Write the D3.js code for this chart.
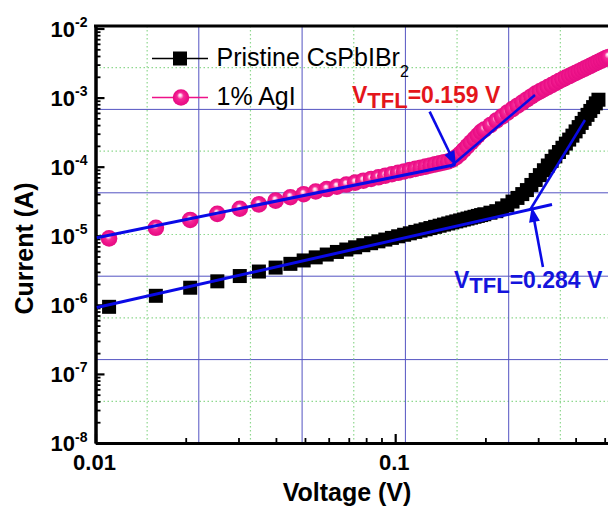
<!DOCTYPE html>
<html><head><meta charset="utf-8">
<script src="https://cdn.jsdelivr.net/npm/d3@7"></script>
<style>html,body{margin:0;padding:0;background:#fff;} svg{display:block;}</style>
</head><body><svg id="c" width="608" height="506"></svg>
<script>
// ---------------- data ----------------
const voltage = [0.0111,0.0159,0.0207,0.0255,0.0303,0.0351,0.0399,0.0447,0.0495,0.0543,
  0.0591,0.0639,0.0687,0.0735,0.0783,0.0831,0.0879,0.0927,0.0975,0.1023,
  0.1071,0.1119,0.1167,0.1215,0.1263,0.1311,0.1359,0.1407,0.1455,0.1503,
  0.1551,0.1599,0.1647,0.1695,0.1743,0.1791,0.1839,0.1887,0.1935,0.1983,
  0.2079,0.2175,0.2271,0.2367,0.2463,0.2559,0.2655,0.2751,0.2847,0.2943,
  0.3039,0.3135,0.3231,0.3327,0.3423,0.3519,0.3615,0.3711,0.3807,0.3903,
  0.3999,0.4095,0.4191,0.4287,0.4383,0.4479,0.4575,0.4671,0.4767,0.4863,
  0.4959,0.5055,0.5151];

const pristineCurrent = [9.36e-7,1.351e-6,1.769e-6,2.189e-6,2.611e-6,3.034e-6,3.459e-6,3.920e-6,4.391e-6,4.865e-6,
  5.346e-6,5.829e-6,6.318e-6,6.806e-6,7.302e-6,7.801e-6,8.303e-6,8.806e-6,9.312e-6,9.824e-6,
  1.034e-5,1.085e-5,1.137e-5,1.189e-5,1.241e-5,1.293e-5,1.346e-5,1.398e-5,1.452e-5,1.505e-5,
  1.559e-5,1.613e-5,1.666e-5,1.720e-5,1.774e-5,1.829e-5,1.883e-5,1.937e-5,1.992e-5,2.047e-5,
  2.157e-5,2.269e-5,2.491e-5,2.755e-5,3.125e-5,3.528e-5,4.010e-5,4.582e-5,5.437e-5,6.420e-5,
  7.543e-5,8.879e-5,1.040e-4,1.214e-4,1.408e-4,1.630e-4,1.878e-4,2.157e-4,2.466e-4,2.812e-4,
  3.240e-4,3.740e-4,4.296e-4,4.918e-4,5.621e-4,6.410e-4,7.279e-4,8.246e-4,9.312e-4];

const agiCurrent = [9.16e-6,1.304e-5,1.691e-5,2.076e-5,2.460e-5,2.844e-5,3.227e-5,3.608e-5,3.990e-5,4.371e-5,
  4.748e-5,5.128e-5,5.509e-5,5.885e-5,6.265e-5,6.643e-5,7.020e-5,7.397e-5,7.774e-5,8.151e-5,
  8.527e-5,8.900e-5,9.276e-5,9.655e-5,1.003e-4,1.040e-4,1.078e-4,1.116e-4,1.153e-4,1.190e-4,
  1.266e-4,1.376e-4,1.533e-4,1.747e-4,1.982e-4,2.243e-4,2.529e-4,2.844e-4,3.185e-4,3.444e-4,
  4.008e-4,4.634e-4,5.321e-4,6.078e-4,6.825e-4,7.623e-4,8.486e-4,9.404e-4,1.039e-3,1.140e-3,
  1.229e-3,1.322e-3,1.419e-3,1.518e-3,1.623e-3,1.731e-3,1.839e-3,1.943e-3,2.051e-3,2.159e-3,
  2.272e-3,2.389e-3,2.508e-3,2.629e-3,2.753e-3,2.883e-3,3.015e-3,3.150e-3,3.288e-3,3.431e-3,
  3.576e-3,3.723e-3,3.876e-3];

// fitted lines [V, I]
const fitPristineOhmic = [[0.0101, 9.15e-7], [0.3336, 2.834e-5]];
const fitPristineTrap  = [[0.2817, 2.36e-5], [0.4298, 4.74e-4]];
const fitAgiOhmic      = [[0.0101, 9.37e-6], [0.1582, 1.068e-4]];
const fitAgiTrap       = [[0.1524, 9.89e-5], [0.2927, 1.091e-3]];
// arrows [tail, tip] as [V, I]
const arrowAgi      = [[0.1303, 6.25e-4], [0.1595, 1.023e-4]];
const arrowPristine = [[0.3112, 3.53e-6], [0.2855, 2.61e-5]];

const seriesNames = ["Pristine CsPbIBr", "1% AgI"];
const vtflLabels = ["0.159", "0.284"];
const yTickExponents = [-8, -7, -6, -5, -4, -3, -2];
const xTickValues = [0.01, 0.1];
const xTickLabels = ["0.01", "0.1"];

// ---------------- layout ----------------
const mL = 95.5, mR = 612, mT = 26, mB = 443;
const x = d3.scaleLog().domain([0.01, 0.529]).range([mL, mR]);
const y = d3.scaleLog().domain([1e-8, 0.01087]).range([mB, mT]);
const font = "Arial, 'Liberation Sans', Helvetica, sans-serif";
const pink = "#ee1289", fitBlue = "#0a0ae6";

const svg = d3.select("#c");
const defs = svg.append("defs");
const grad = defs.append("radialGradient").attr("id", "sphere")
  .attr("cx", "50%").attr("cy", "50%").attr("r", "50%").attr("fx", "44%").attr("fy", "34%");
grad.append("stop").attr("offset", "0%").attr("stop-color", "#ffffff");
grad.append("stop").attr("offset", "16%").attr("stop-color", "#ffc8e4");
grad.append("stop").attr("offset", "40%").attr("stop-color", "#f52a98");
grad.append("stop").attr("offset", "75%").attr("stop-color", "#ee1289");
grad.append("stop").attr("offset", "100%").attr("stop-color", "#e40d83");
defs.append("clipPath").attr("id", "plot").append("rect")
  .attr("x", mL).attr("y", mT).attr("width", mR - mL).attr("height", mB - mT);

// ---------------- grid (10 x 10 overlay) ----------------
const gx = d3.scaleLinear().domain([0, 10]).range([mL, mR]);
const gy = d3.scaleLinear().domain([0, 10]).range([mB, mT]);
const grid = svg.append("g");
d3.range(1, 10).forEach(k => {
  const major = k % 2 === 0;
  const st = major ? {c: "#5353c2", w: 1, d: null} : {c: "#8ed88e", w: 1.2, d: "1.5,2.5"};
  grid.append("line").attr("x1", gx(k)).attr("x2", gx(k)).attr("y1", mT).attr("y2", mB)
    .attr("stroke", st.c).attr("stroke-width", st.w).attr("stroke-dasharray", st.d);
  grid.append("line").attr("y1", gy(k)).attr("y2", gy(k)).attr("x1", mL).attr("x2", mR)
    .attr("stroke", st.c).attr("stroke-width", st.w).attr("stroke-dasharray", st.d);
});

// ---------------- axes ----------------
const yMajor = yTickExponents.map(e => Math.pow(10, e));
const yMinor = y.ticks().filter(v => !yMajor.some(m => Math.abs(v / m - 1) < 1e-6) && v <= y.domain()[1]);
const xMinor = x.ticks().filter(v => !xTickValues.some(m => Math.abs(v / m - 1) < 1e-6));

function styleAxis(g, w) {
  g.select(".domain").attr("stroke", "#000").attr("stroke-width", 3);
  g.selectAll(".tick line").attr("stroke", "#000").attr("stroke-width", w);
  g.selectAll(".tick text").remove();
}
svg.append("g").attr("transform", `translate(${mL},0)`)
  .call(d3.axisLeft(y).tickValues(yMinor).tickSizeInner(-5).tickSizeOuter(0).tickFormat(""))
  .call(g => styleAxis(g, 1.8));
svg.append("g").attr("transform", `translate(${mL},0)`)
  .call(d3.axisLeft(y).tickValues(yMajor).tickSizeInner(-9).tickSizeOuter(0).tickFormat(""))
  .call(g => styleAxis(g, 2.2));
svg.append("g").attr("transform", `translate(0,${mB})`)
  .call(d3.axisBottom(x).tickValues(xMinor).tickSizeInner(-5).tickSizeOuter(0).tickFormat(""))
  .call(g => styleAxis(g, 1.8));
svg.append("g").attr("transform", `translate(0,${mB})`)
  .call(d3.axisBottom(x).tickValues(xTickValues).tickSizeInner(-9).tickSizeOuter(0).tickFormat(""))
  .call(g => styleAxis(g, 2.2));
svg.append("line").attr("x1", mL - 1.5).attr("x2", 608).attr("y1", mT).attr("y2", mT)
  .attr("stroke", "#000").attr("stroke-width", 3);

// tick labels
yTickExponents.forEach(e => {
  const t = svg.append("text").attr("x", 87.5).attr("y", y(Math.pow(10, e)) + 8)
    .attr("text-anchor", "end").attr("font-family", font).attr("font-weight", "bold").attr("font-size", 22);
  t.append("tspan").text("10");
  t.append("tspan").attr("dy", -9.5).attr("font-size", 14).text("-" + Math.abs(e));
});
xTickValues.forEach((v, i) => {
  svg.append("text").attr("x", x(v) - 1).attr("y", 470).attr("text-anchor", "middle")
    .attr("font-family", font).attr("font-weight", "bold").attr("font-size", 22).text(xTickLabels[i]);
});
svg.append("text").attr("x", 347).attr("y", 501).attr("text-anchor", "middle")
  .attr("font-family", font).attr("font-weight", "bold").attr("font-size", 25).text("Voltage (V)");
svg.append("text").attr("transform", "translate(33,248.5) rotate(-90)").attr("text-anchor", "middle")
  .attr("font-family", font).attr("font-weight", "bold").attr("font-size", 25).text("Current (A)");

// ---------------- data ----------------
const plot = svg.append("g").attr("clip-path", "url(#plot)");
const sq = 14, r = 8.3;
const pristine = pristineCurrent.map((c, i) => [voltage[i], c]);
const agi = agiCurrent.map((c, i) => [voltage[i], c]);
plot.append("g").selectAll("rect").data(pristine).join("rect")
  .attr("x", d => x(d[0]) - sq / 2).attr("y", d => y(d[1]) - sq / 2)
  .attr("width", sq).attr("height", sq).attr("fill", "#000");
plot.append("g").selectAll("circle").data(agi).join("circle")
  .attr("cx", d => x(d[0])).attr("cy", d => y(d[1])).attr("r", r).attr("fill", "url(#sphere)");

// fit lines
const line = d3.line().x(d => x(d[0])).y(d => y(d[1]));
[[fitAgiOhmic, 3], [fitPristineOhmic, 3], [fitAgiTrap, 2.5], [fitPristineTrap, 2.5]].forEach(([pts, w]) => {
  plot.append("path").attr("d", line(pts)).attr("fill", "none").attr("stroke", fitBlue).attr("stroke-width", w);
});

// arrows
function arrow(pts) {
  const p0 = [x(pts[0][0]), y(pts[0][1])], p1 = [x(pts[1][0]), y(pts[1][1])];
  const dx = p1[0] - p0[0], dy = p1[1] - p0[1], L = Math.hypot(dx, dy);
  const u = [dx / L, dy / L], n = [-u[1], u[0]];
  const hl = 15, hw = 11;
  const b = [p1[0] - u[0] * hl, p1[1] - u[1] * hl];
  svg.append("line").attr("x1", p0[0]).attr("y1", p0[1]).attr("x2", b[0] + u[0] * 2).attr("y2", b[1] + u[1] * 2)
    .attr("stroke", fitBlue).attr("stroke-width", 2.6);
  svg.append("path").attr("d", `M${p1[0]},${p1[1]}L${b[0] + n[0] * hw / 2},${b[1] + n[1] * hw / 2}L${b[0] - n[0] * hw / 2},${b[1] - n[1] * hw / 2}Z`)
    .attr("fill", fitBlue);
}
arrow(arrowAgi);
arrow(arrowPristine);

// V_TFL labels
function vtfl(xp, yp, val, color) {
  const t = svg.append("text").attr("x", xp).attr("y", yp).attr("font-family", font)
    .attr("font-weight", "bold").attr("font-size", 23).attr("fill", color);
  t.append("tspan").text("V");
  t.append("tspan").attr("dy", 5).attr("font-size", 22).text("TFL");
  t.append("tspan").attr("dy", -5).text("=" + val + " V");
}
vtfl(352, 103, vtflLabels[0], "#e4161b");
vtfl(454, 288, vtflLabels[1], "#1414dc");

// ---------------- legend ----------------
const lg = svg.append("g");
lg.append("line").attr("x1", 152).attr("x2", 208).attr("y1", 58.5).attr("y2", 58.5).attr("stroke", "#000").attr("stroke-width", 1.6);
lg.append("rect").attr("x", 180 - 7).attr("y", 58.5 - 7).attr("width", 14).attr("height", 14).attr("fill", "#000");
const t1 = lg.append("text").attr("x", 216.5).attr("y", 66).attr("font-family", font).attr("font-size", 25);
t1.append("tspan").text(seriesNames[0]);
t1.append("tspan").attr("dy", 11).attr("font-size", 16).text("2");
lg.append("line").attr("x1", 152).attr("x2", 208).attr("y1", 97.5).attr("y2", 97.5).attr("stroke", pink).attr("stroke-width", 1.6);
lg.append("circle").attr("cx", 181).attr("cy", 97.5).attr("r", 8.3).attr("fill", "url(#sphere)");
lg.append("text").attr("x", 216.5).attr("y", 104.5).attr("font-family", font).attr("font-size", 25).text(seriesNames[1]);
</script></body></html>
